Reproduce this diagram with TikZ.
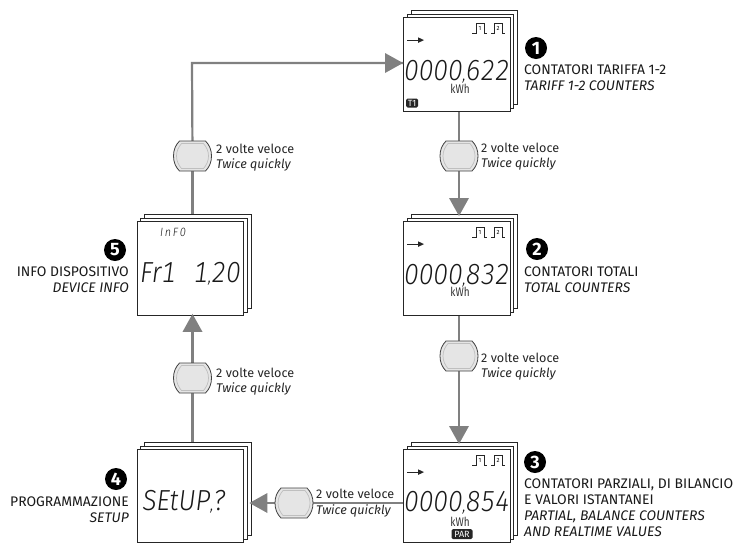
\documentclass[tikz,border=0pt]{standalone}
\usepackage{fontspec}
\setmainfont{Fira Sans}
\newfontfamily\lcdfont[FakeStretch=0.9,Numbers=Monospaced,UprightFont={* Light},ItalicFont={* Light Italic}]{Fira Sans}
\newfontfamily\unitfont[FakeStretch=0.8]{Fira Sans}
\newcommand{\lcdcomma}{{\fontsize{18}{18}\selectfont,}}
\tikzset{
  lcdsheet/.style = {draw=black!85, fill=white, line width=0.9pt, minimum width=106.5pt, minimum height=94pt, inner sep=0pt, anchor=north west},
  lcdtext/.style = {font=\fontsize{29}{29}\lcdfont\itshape, inner sep=0pt, anchor=base, text=black!90},
  flowline/.style = {draw=black!50, line width=2.2pt},
  thinline/.style = {draw=black!50, line width=1.3pt},
  flowtip/.style = {fill=black!50, draw=none},
  pushbtn/.style = {minimum width=38pt, minimum height=30pt, inner sep=0pt},
  btntext/.style = {font=\fontsize{12.6}{14}\selectfont, anchor=base west, inner sep=0pt, text=black!85},
  btntexti/.style = {btntext, font=\fontsize{12.6}{14}\selectfont\itshape},
  steplabel/.style = {font=\fontsize{13.9}{16}\selectfont, inner sep=0pt, text=black!90},
  stepnum/.style = {circle, fill=black, text=white, font=\fontsize{18}{18}\selectfont\bfseries, minimum size=22pt, inner sep=0pt},
  tagbox/.style = {fill=black!85, text=white, rounded corners=1.5pt, inner sep=1pt, font=\fontsize{9}{9}\selectfont},
  unittext/.style = {font=\fontsize{12.5}{12.5}\unitfont, inner sep=0pt, text=black!80},
}
% one display with its two sheets behind
\newcommand{\lcdstack}[4][94]{
  \node [lcdsheet, minimum height=#1pt] (#2back) at (#3+7.5,#4-7) {};
  \node [lcdsheet, minimum height=#1pt] (#2mid) at (#3+3.5,#4-3) {};
  \node [lcdsheet, minimum height=#1pt] (#2) at (#3,#4) {};
}
% pulse outputs and direction arrow of a display
\newcommand{\lcdicons}[1]{
  \begin{scope}[shift={(#1.north west)}]
    \draw [black!85, line width=0.9pt] (69,16) -- (73,16) -- (73,6) -- (81,6) -- (81,16) -- (84,16);
    \draw [black!85, line width=0.9pt] (88,16) -- (91,16) -- (91,6) -- (99,6) -- (99,16) -- (102,16);
    \node [inner sep=0pt, font=\fontsize{6}{6}\selectfont] at (77,11.5) {1};
    \node [inner sep=0pt, font=\fontsize{6}{6}\selectfont] at (95,11.5) {2};
    \fill [black!85] (4,22.5) rectangle (17,23.7);
    \fill [black!85] (15,20.3) -- (21,23.1) -- (15,25.9) -- cycle;
  \end{scope}
}
% body of a push button
\newcommand{\btnbody}[1]{
  \begin{scope}[shift={(#1)}]
    \draw [black!75, fill=black!10, line width=0.8pt] (-13,-15) -- (13,-15) .. controls (17,-11) and (19,-6) .. (19,0)
      .. controls (19,6) and (17,11) .. (13,15) -- (-13,15) .. controls (-17,11) and (-19,6) .. (-19,0)
      .. controls (-19,-6) and (-17,-11) .. (-13,-15) -- cycle;
    \draw [black!25, line width=0.7pt] (-11,-12.5) -- (11,-12.5) .. controls (14,-9) and (16,-5) .. (16,0)
      .. controls (16,5) and (14,9) .. (11,12.5) -- (-11,12.5) .. controls (-14,9) and (-16,5) .. (-16,0)
      .. controls (-16,-5) and (-14,-9) .. (-11,-12.5) -- cycle;
  \end{scope}
}
\begin{document}
\begin{tikzpicture}[x=1pt,y=-1pt]
\useasboundingbox (0,0) rectangle (735,542);

\coordinate (corner) at (192,63);
\node [pushbtn] (btnA) at (459,156) {};
\node [pushbtn] (btnB) at (459,356) {};
\node [pushbtn] (btnC) at (294,503) {};
\node [pushbtn] (btnD) at (192.5,378) {};
\node [pushbtn] (btnE) at (192.5,156) {};

\lcdstack{lcdA}{403}{17}
\lcdstack{lcdB}{403}{221}
\lcdstack[92.5]{lcdC}{403}{449}
\lcdstack[92.5]{lcdD}{136.5}{449}
\lcdstack{lcdE}{136.5}{221}

% connectors
\draw [flowline] (lcdA.south -| btnA) -- (btnA);
\draw [flowline] (btnA) -- (lcdBback.north -| btnA);
\draw [flowline] (lcdB.south -| btnB) -- (btnB);
\draw [flowline] (btnB) -- (lcdCback.north -| btnB);
\draw [thinline] (lcdC.west |- btnC) -- (btnC);
\draw [flowline] (btnC) -- (lcdDback.east |- btnC);
\draw [flowline] (lcdDback.north -| btnD) -- (btnD);
\draw [flowline] (btnD) -- (lcdE.south -| btnD);
\draw [flowline] (lcdEback.north -| btnE) -- (btnE);
\draw [flowline] (btnE) -- (corner) -- (lcdA.west |- corner);

% arrow heads
\fill [flowtip] (lcdBback.north -| btnA) ++(0,2) -- ++(-10,-18) -- ++(20,0) -- cycle;
\fill [flowtip] (lcdCback.north -| btnB) ++(0,2) -- ++(-10,-18) -- ++(20,0) -- cycle;
\fill [flowtip] (lcdDback.east |- btnC) ++(-2,0) -- ++(18,-10) -- ++(0,20) -- cycle;
\fill [flowtip] (lcdE.south -| btnD) ++(0,-2) -- ++(-10,18) -- ++(20,0) -- cycle;
\fill [flowtip] (lcdA.west |- corner) -- ++(-18,-10) -- ++(0,20) -- cycle;

\foreach \b in {btnA,btnB,btnC,btnD,btnE} {
  \btnbody{\b}
}

\node [btntext] (txtA) at (481,152) {2 volte veloce};
\node [btntexti] (txtAi) at (481,167) {Twice quickly};
\node [btntext] (txtB) at (481,362) {2 volte veloce};
\node [btntexti] (txtBi) at (481,377) {Twice quickly};
\node [btntext] (txtC) at (316,498) {2 volte veloce};
\node [btntexti] (txtCi) at (316,514) {Twice quickly};
\node [btntext] (txtD) at (216,377) {2 volte veloce};
\node [btntexti] (txtDi) at (216,392) {Twice quickly};
\node [btntext] (txtE) at (216,153) {2 volte veloce};
\node [btntexti] (txtEi) at (216,168) {Twice quickly};

\lcdicons{lcdA}
\lcdicons{lcdB}
\lcdicons{lcdC}

\node [lcdtext] (valA) at (457,80) {0000\lcdcomma622};
\node [lcdtext] (valB) at (457,284) {0000\lcdcomma832};
\node [lcdtext] (valC) at (457,511) {0000\lcdcomma854};
\node [lcdtext] (valD) at (184,510) {SEtUP\lcdcomma?};
\node [lcdtext, anchor=base west] (valE) at (140,282) {Fr1};
\node [lcdtext, anchor=base east] (valF) at (241,282) {1\lcdcomma20};
\node [lcdtext, font=\fontsize{12}{12}\lcdfont\itshape\addfontfeature{LetterSpace=15}] (infoE) at (173,236) {InF0};

\node [unittext] (unitA) at (460,89) {kWh};
\node [unittext] (unitB) at (460,292) {kWh};
\node [unittext] (unitC) at (460,522) {kWh};
\node [tagbox, minimum width=12pt, minimum height=9pt] (tagA) at (412,103) {T1};
\node [tagbox, minimum width=21pt, minimum height=10pt] (tagC) at (462,534) {PAR};

\node [stepnum] (numA) at (536,48) {1};
\node [stepnum] (numB) at (537,249) {2};
\node [stepnum] (numC) at (535,462) {3};
\node [stepnum] (numD) at (116,479) {4};
\node [stepnum] (numE) at (115,250) {5};

\node [steplabel, anchor=north west, align=left] (capA) at (524,64.5) {CONTATORI TARIFFA 1-2\\\textit{TARIFF 1-2 COUNTERS}};
\node [steplabel, anchor=north west, align=left] (capB) at (524,266.5) {CONTATORI TOTALI\\\textit{TOTAL COUNTERS}};
\node [steplabel, anchor=north west, align=left] (capC) at (524,479) {CONTATORI PARZIALI, DI BILANCIO\\E VALORI ISTANTANEI\\\textit{PARTIAL, BALANCE COUNTERS}\\\textit{AND REALTIME VALUES}};
\node [steplabel, anchor=north east, align=right] (capD) at (129,496.5) {PROGRAMMAZIONE\\\textit{SETUP}};
\node [steplabel, anchor=north east, align=right] (capE) at (129,267) {INFO DISPOSITIVO\\\textit{DEVICE INFO}};
\end{tikzpicture}
\end{document}
